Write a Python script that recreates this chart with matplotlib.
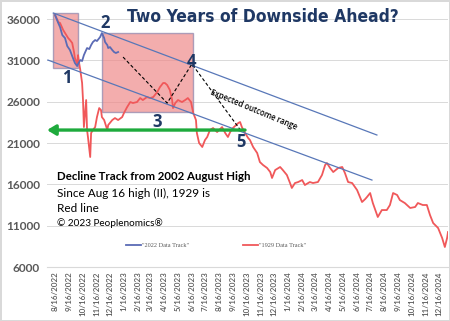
import matplotlib
matplotlib.use("Agg")
import matplotlib.pyplot as plt
from matplotlib.patches import Rectangle
from matplotlib import font_manager
import pandas as pd

# ---- data -------------------------------------------------------------
start = pd.Timestamp("2022-08-16")

# "2022 Data Track" (days after 8/16/2022, index level)
track_2022_days = [0, 7, 11, 16, 22, 27, 33, 38, 44, 49, 51, 56, 60, 64, 67, 71,
                   76, 80, 84, 89, 93, 100, 104, 109, 111, 116, 118, 122, 127, 131,
                   135, 140]
track_2022_vals = [36480, 35520, 35030, 34060, 33700, 32730, 32250, 31520, 30680,
                   30310, 30560, 31040, 30920, 31640, 32010, 32490, 32370, 32850,
                   33220, 33460, 33340, 33820, 34310, 33700, 33220, 32850, 32490,
                   32610, 32250, 32010, 31890, 32010]

# "1929 Data Track" aligned on the same start date
track_1929_days = [0, 7, 11, 18, 22, 29, 33, 38, 42, 44, 49, 51, 53, 56, 60, 62, 64,
                   69, 71, 73, 78, 80, 84, 89, 93, 98, 102, 104, 109, 116, 118, 127,
                   133, 140, 149, 153, 160, 167, 173, 182, 189, 195, 204, 211, 218,
                   227, 233, 240, 244, 249, 255, 260, 262, 267, 273, 282, 289, 295,
                   302, 307, 313, 315, 320, 327, 333, 338, 344, 351, 360, 371, 378,
                   384, 389, 395, 407, 411, 415, 422, 429, 433, 440, 449, 455, 462,
                   471, 478, 482, 489, 500, 506, 515, 522, 526, 533, 540, 549, 555,
                   566, 573, 584, 593, 600, 604, 611, 618, 629, 638, 644, 651, 660,
                   671, 682, 689, 693, 700, 706, 717, 726, 737, 744, 751, 760, 766,
                   777, 789, 800, 806, 817, 826, 833, 840, 851, 860, 866, 871, 873]
track_1929_vals = [36480, 35640, 35520, 34670, 34310, 33700, 33460, 33100, 32010,
                   31280, 30560, 31640, 30800, 29830, 28260, 26200, 22930, 26200,
                   22570, 21730, 19310, 22210, 22570, 22930, 24140, 25230, 24990,
                   24140, 23780, 22570, 23180, 23780, 24020, 23780, 24140, 24630,
                   25350, 25960, 25840, 25960, 26440, 26200, 26560, 26440, 26560,
                   27170, 27770, 28260, 28260, 28020, 27410, 26200, 25230, 25840,
                   26200, 25960, 26200, 26440, 25960, 24630, 23780, 22210, 21000,
                   20520, 21360, 21730, 22570, 22810, 22330, 22930, 22210, 21730,
                   22330, 22810, 23420, 23540, 22930, 22210, 21600, 21360, 20520,
                   19790, 18700, 18340, 17980, 17490, 16770, 17730, 18100, 17730,
                   17130, 16160, 15560, 16160, 16280, 16520, 15920, 16280, 16160,
                   16280, 17130, 18340, 18580, 17980, 17490, 17980, 18100, 17370,
                   16280, 16160, 15310, 13860, 14220, 14470, 14950, 13740, 12050,
                   12890, 12890, 13500, 14950, 14710, 14100, 13740, 13140, 13260,
                   13740, 13500, 13500, 12290, 11320, 10720, 9510, 8420, 9510, 10230]

y_ticks = [6000, 11000, 16000, 21000, 26000, 31000, 36000]
tick_dates = pd.date_range("2022-08-01", "2024-12-01", freq="MS") + pd.Timedelta(days=15)
tick_days = [(d - start).days for d in tick_dates]
tick_labels = [f"{d.month}/{d.day}/{d.year}" for d in tick_dates]

# annotation geometry (days, level)
box_1 = (-4, 30070, 51, 36730)
box_2 = (104, 24750, 307, 34310)
channel_upper = ([-4, 715], [36730, 21970])
channel_lower = ([-16, 704], [31040, 16520])
path_days = [151, 249, 304, 415]
path_vals = [31400, 25840, 30560, 22330]
support_level = 22570
support_span = (422, -18)
point_labels = ["1", "2", "3", "4", "5"]
point_days = [27, 111, 227, 304, 413]
point_vals = [28860, 35520, 23540, 30800, 21120]


def condensed_bold_font():
    """Pick a narrow bold face if one is installed, else Roboto bold."""
    keys = ("narrow", "condensed")
    best = None
    for f in font_manager.fontManager.ttflist:
        name = f.name.lower()
        narrow = any(k in name for k in keys) or str(f.stretch).lower() in (
            "condensed", "semi-condensed", "extra-condensed")
        bold = f.weight in ("bold", 700, "semibold", 600) or (
            isinstance(f.weight, int) and f.weight >= 600)
        if narrow and bold and "oblique" not in f.fname.lower() and "italic" not in f.fname.lower():
            best = f
            break
    if best is not None:
        return font_manager.FontProperties(fname=best.fname)
    return font_manager.FontProperties(family="Roboto", weight="bold")


# ---- figure -----------------------------------------------------------
W, H = 450, 321
fig = plt.figure(figsize=(W / 100, H / 100), dpi=100)
fig.patch.set_facecolor("white")
fig.patch.set_edgecolor("#D9D9D9")
fig.patch.set_linewidth(1.0)

ax = fig.add_axes([47 / W, 1 - 267 / H, (448 - 47) / W, (267 - 5) / H])
ax.set_xlim(-18, 873)
ax.set_ylim(6000, 37700)

for sp in ["top", "right", "left"]:
    ax.spines[sp].set_visible(False)
ax.spines["bottom"].set_color("#D9D9D9")
ax.spines["bottom"].set_linewidth(0.8)

ax.set_yticks(y_ticks)
ax.set_yticklabels([str(v) for v in y_ticks], fontsize=8.5, color="#595959",
                   fontweight="bold", family="Lato")
ax.set_xticks(tick_days)
ax.set_xticklabels(tick_labels, rotation=90, fontsize=5.8, color="#595959",
                   family="Lato", fontweight="semibold", va="top", ha="center")
ax.tick_params(length=0, axis="both", pad=3)
ax.tick_params(axis="y", pad=5)
ax.grid(axis="y", color="#D9D9D9", linewidth=0.7)
ax.set_axisbelow(True)

# shaded boxes
for (x0, y0, x1, y1) in (box_1, box_2):
    ax.add_patch(Rectangle((x0, y0), x1 - x0, y1 - y0, facecolor="#EE8A8A",
                           alpha=0.7, edgecolor="#8C84AC", linewidth=1.0, zorder=1))

# data tracks
l1, = ax.plot(track_2022_days, track_2022_vals, color="#5B6BB5", lw=1.3,
              label='"2022 Data Track"', zorder=4)
l2, = ax.plot(track_1929_days, track_1929_vals, color="#F0585A", lw=1.3,
              label='"1929 Data Track"', zorder=3)

# channel lines
for xs, ys in (channel_upper, channel_lower):
    ax.plot(xs, ys, color="#5877B8", lw=0.9, zorder=5, clip_on=False)

# dashed path
ax.plot(path_days, path_vals, color="black", lw=0.8, ls=(0, (3, 2)), zorder=6)

# support arrow
ax.annotate("", xy=(support_span[1], support_level), xytext=(support_span[0], support_level),
            arrowprops=dict(arrowstyle="-|>,head_length=0.5,head_width=0.3",
                            color="#1EAA3C", lw=2.4, shrinkA=0, shrinkB=0),
            annotation_clip=False, zorder=6)

for t, xd, yv in zip(point_labels, point_days, point_vals):
    ax.text(xd, yv, t, fontsize=12, fontweight="bold", color="#1F3864",
            ha="center", va="center", family="Open Sans", zorder=7)

ax.text(441, 25000, "Expected outcome range", fontsize=5.6, rotation=-22.5,
        ha="center", va="center", color="black", fontweight="semibold",
        family="Open Sans", zorder=7)

# title, sized to span its slot
title_fp = condensed_bold_font()
title_fp.set_size(20)
title = fig.text(263 / W, 1 - 17 / H, "Two Years of Downside Ahead?",
                 fontproperties=title_fp, color="#1F3864", ha="center", va="center")
renderer = fig.canvas.get_renderer()
tw = title.get_window_extent(renderer).width
title_fp.set_size(min(22.0, 20 * 272 / tw))
title.set_fontproperties(title_fp)

fig.text(57 / W, 1 - 177 / H, "Decline Track from 2002 August High", fontsize=8.3,
         fontweight="bold", color="black", family="Lato", ha="left", va="center")
fig.text(57 / W, 1 - 193 / H, "Since Aug 16 high (II), 1929 is", fontsize=8.5,
         color="black", family="Lato", ha="left", va="center")
fig.text(57 / W, 1 - 209 / H, "Red line", fontsize=8.5,
         color="black", family="Lato", ha="left", va="center")
fig.text(57 / W, 1 - 223 / H, "© 2023 Peoplenomics®", fontsize=7.2,
         color="black", family="Lato", ha="left", va="center")

leg = ax.legend(handles=[l1, l2], loc="center", bbox_to_anchor=(216 / W, 1 - 245 / H),
                bbox_transform=fig.transFigure, ncol=2, frameon=False,
                prop={"family": "Liberation Serif", "size": 4.5},
                handlelength=2.5, handletextpad=0.2, columnspacing=8.5)
for t in leg.get_texts():
    t.set_color("#595959")

fig.savefig("out.png", dpi=100)
